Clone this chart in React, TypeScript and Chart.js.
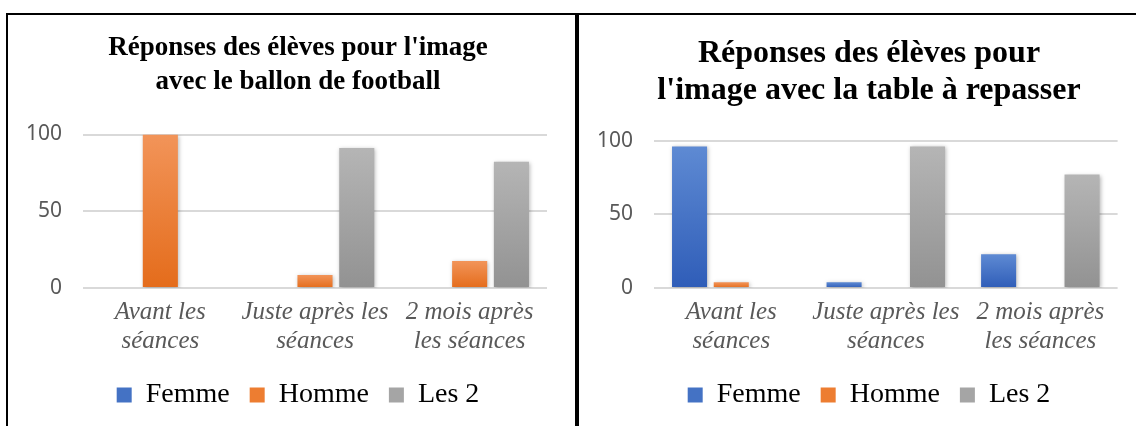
import React, { useEffect, useRef } from "react";
import { Chart, registerables } from "chart.js";

Chart.register(...registerables);

// ---------- data ----------
const categories: string[][] = [
  ["Avant les", "séances"],
  ["Juste après les", "séances"],
  ["2 mois après", "les séances"],
];
const seriesNames = ["Femme", "Homme", "Les 2"];
const yTicks = [0, 50, 100];

const footballTitle = ["Réponses des élèves pour l'image", "avec le ballon de football"];
const footballFemme = [0, 0, 0];
const footballHomme = [100, 8.5, 17.6];
const footballLes2 = [0, 91.2, 82.2];

const tableTitle = ["Réponses des élèves pour", "l'image avec la table à repasser"];
const tableFemme = [96.2, 3.9, 22.9];
const tableHomme = [3.9, 0, 0];
const tableLes2 = [0, 96.2, 77.1];

// ---------- styles ----------
const solid = ["#4472C4", "#ED7D31", "#A5A5A5"];
const gradTop = ["#5E8AD3", "#F29459", "#B5B5B5"];
const gradBottom = ["#2F5DB8", "#E46C1B", "#929292"];
const SERIF = "'Liberation Serif', 'Times New Roman', serif";
const SANS = "'Noto Sans', 'Liberation Sans', sans-serif";

function barFill(i: number) {
  return (ctx: any) => {
    const chart = ctx.chart;
    const y = chart.scales && chart.scales.y;
    if (!chart.chartArea || !y || typeof ctx.raw !== "number") return solid[i];
    const top = y.getPixelForValue(ctx.raw);
    const bottom = y.getPixelForValue(0);
    if (Math.abs(bottom - top) < 1) return solid[i];
    const g = chart.ctx.createLinearGradient(0, top, 0, bottom);
    g.addColorStop(0, gradTop[i]);
    g.addColorStop(1, gradBottom[i]);
    return g;
  };
}

const shadowPlugin = {
  id: "barShadow",
  beforeDatasetsDraw(chart: any) {
    const c = chart.ctx;
    c.save();
    c.shadowColor = "rgba(0,0,0,0.28)";
    c.shadowBlur = 4;
    c.shadowOffsetX = 1;
    c.shadowOffsetY = 1;
  },
  afterDatasetsDraw(chart: any) {
    chart.ctx.restore();
  },
};

function makeConfig(
  title: string[],
  titleSize: number,
  titleLineHeight: number,
  titlePadTop: number,
  titlePadBottom: number,
  rightSpace: number,
  values: number[][]
): any {
  return {
    type: "bar",
    data: {
      labels: categories,
      datasets: values.map((v, i) => ({
        label: seriesNames[i],
        data: v,
        yAxisID: "y",
        backgroundColor: barFill(i),
        borderWidth: 0,
        categoryPercentage: 0.81,
        barPercentage: 0.84,
      })),
    },
    plugins: [shadowPlugin],
    options: {
      responsive: false,
      animation: false,
      devicePixelRatio: 1,
      layout: { padding: { left: 0, right: 0, top: 0, bottom: 7 } },
      plugins: {
        tooltip: { enabled: false },
        title: {
          display: true,
          text: title,
          color: "#000",
          font: { family: SERIF, size: titleSize, weight: "bold", lineHeight: titleLineHeight },
          padding: { top: titlePadTop, bottom: titlePadBottom },
        },
        legend: {
          position: "bottom",
          labels: {
            color: "#000",
            font: { family: SERIF, size: 28 },
            boxWidth: 15,
            boxHeight: 15,
            padding: 20,
            generateLabels: (chart: any) =>
              (Chart.defaults as any).plugins.legend.labels
                .generateLabels(chart)
                .map((l: any, i: number) => ({
                  ...l,
                  fillStyle: solid[i],
                  strokeStyle: solid[i],
                  lineWidth: 0,
                })),
          },
        },
      },
      scales: {
        x: {
          grid: { display: false },
          border: { display: false },
          ticks: {
            color: "#595959",
            font: { family: SERIF, size: 25, style: "italic", lineHeight: 1.15 },
            maxRotation: 0,
            autoSkip: false,
            padding: 2,
          },
          afterFit: (s: any) => {
            s.height = 73;
          },
        },
        y: {
          position: "left",
          min: 0,
          max: 100,
          afterBuildTicks: (s: any) => {
            s.ticks = yTicks.map((v) => ({ value: v }));
          },
          grid: { color: "#D9D9D9", lineWidth: 2, drawTicks: false },
          border: { display: false },
          ticks: {
            color: "#595959",
            font: { family: SANS, size: 21 },
            padding: 21,
          },
          afterFit: (s: any) => {
            s.width = 75;
          },
        },
        // empty spacer on the right, keeps the title and legend centred as in the picture
        y2: {
          position: "right",
          grid: { display: false },
          border: { display: false },
          ticks: { display: false },
          afterFit: (s: any) => {
            s.width = rightSpace;
          },
        },
      },
    },
  };
}

function ChartBox(props: { config: any; width: number; height: number; left: number; top: number }) {
  const ref = useRef<HTMLCanvasElement | null>(null);
  useEffect(() => {
    if (!ref.current) return;
    const chart = new Chart(ref.current, props.config);
    return () => chart.destroy();
  }, []);
  return (
    <canvas
      ref={ref}
      width={props.width}
      height={props.height}
      style={{
        position: "absolute",
        left: props.left,
        top: props.top,
        width: props.width,
        height: props.height,
        display: "block",
      }}
    />
  );
}

export default function App() {
  const leftCfg = makeConfig(footballTitle, 27, 1.25, 16, 36, 41, [footballFemme, footballHomme, footballLes2]);
  const rightCfg = makeConfig(tableTitle, 32, 1.17, 20, 31, 41.4, [tableFemme, tableHomme, tableLes2]);
  const line = { position: "absolute" as const, background: "#000", zIndex: 2 };
  return (
    <div
      style={{
        position: "absolute",
        left: 0,
        top: 0,
        width: 1136,
        height: 426,
        background: "#fff",
        overflow: "hidden",
      }}
    >
      <ChartBox config={leftCfg} width={580} height={411} left={8} top={15} />
      <ChartBox config={rightCfg} width={580} height={411} left={579} top={15} />
      <div style={{ ...line, left: 6, top: 13, width: 1130, height: 2 }} />
      <div style={{ ...line, left: 6, top: 13, width: 2, height: 413 }} />
      <div style={{ ...line, left: 575, top: 13, width: 4, height: 413 }} />
    </div>
  );
}
